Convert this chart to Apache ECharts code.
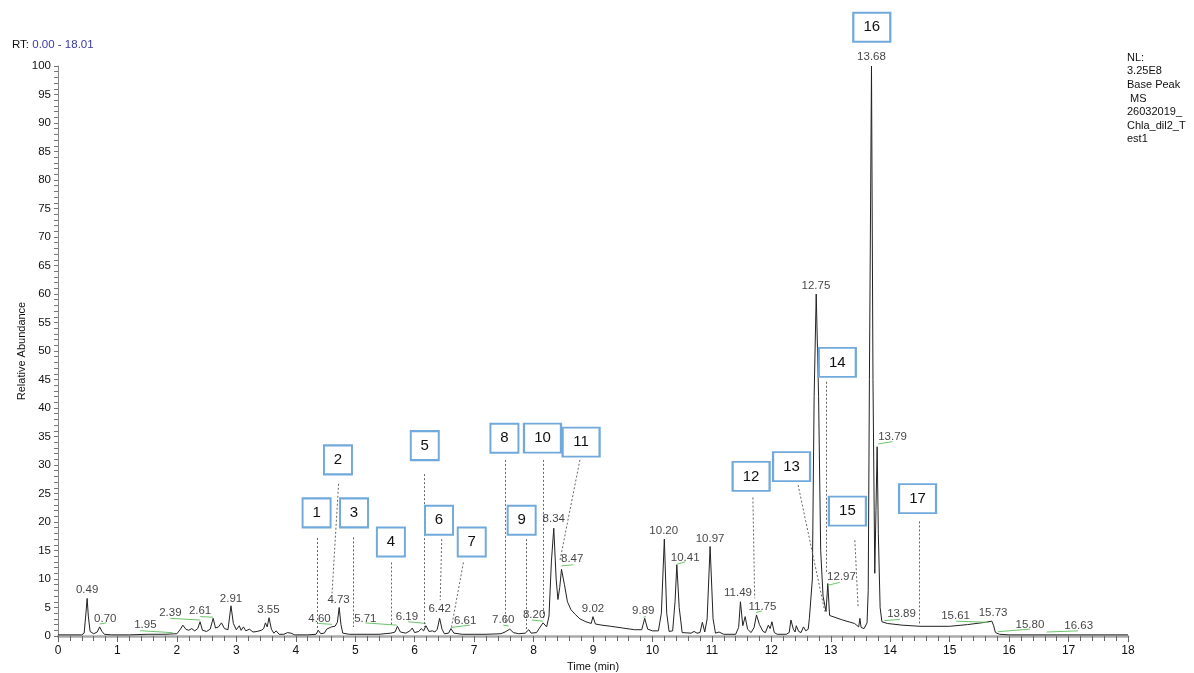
<!DOCTYPE html>
<html>
<head>
<meta charset="utf-8">
<script src="https://cdn.jsdelivr.net/npm/echarts@6/dist/echarts.min.js"></script>
<style>
html,body{margin:0;padding:0;background:#fff;}
#chart{width:1194px;height:673px;}
</style>
</head>
<body>
<div id="chart"></div>
<script>
// ---- Data ----
var rtRange = "0.00 - 18.01";
var infoLines = ["NL:", "3.25E8", "Base Peak", " MS", "26032019_", "Chla_dil2_T", "est1"];

// Trace points [time (min), relative abundance]
var trace = [
[0.00,0.2],[0.40,0.2],[0.44,0.5],[0.47,4.0],[0.49,6.6],[0.51,3.5],[0.54,0.8],[0.60,0.4],[0.66,0.7],[0.70,1.6],[0.74,0.8],[0.78,0.3],[0.90,0.2],[1.20,0.2],[1.50,0.3],[1.80,0.3],[2.00,0.4],[2.06,1.2],[2.10,1.9],[2.15,1.2],[2.20,1.0],[2.25,1.3],[2.30,0.9],[2.35,1.3],[2.39,2.5],[2.43,1.0],[2.50,0.8],[2.56,1.2],[2.61,3.1],[2.65,1.4],[2.70,1.6],[2.75,2.3],[2.80,1.3],[2.86,1.1],[2.91,5.3],[2.95,2.2],[3.00,1.1],[3.05,1.8],[3.08,1.0],[3.12,1.6],[3.16,0.9],[3.22,1.2],[3.28,0.7],[3.35,0.8],[3.42,1.0],[3.46,1.3],[3.49,2.3],[3.52,1.6],[3.55,3.2],[3.59,1.2],[3.63,0.5],[3.67,0.9],[3.72,0.3],[3.80,0.3],[3.86,0.6],[3.92,0.5],[3.98,0.2],[4.20,0.2],[4.34,0.3],[4.38,1.0],[4.42,0.4],[4.48,0.5],[4.52,1.2],[4.55,0.9],[4.60,1.6],[4.66,1.7],[4.70,2.4],[4.73,5.0],[4.76,2.0],[4.79,0.5],[4.90,0.3],[5.40,0.3],[5.60,0.5],[5.67,0.7],[5.71,1.7],[5.76,0.7],[5.85,0.5],[5.92,0.9],[5.96,1.4],[6.00,0.6],[6.07,0.8],[6.11,1.3],[6.15,0.9],[6.19,1.8],[6.24,0.8],[6.30,0.9],[6.34,0.7],[6.38,1.2],[6.42,3.1],[6.46,1.2],[6.50,0.4],[6.57,0.5],[6.61,1.3],[6.66,0.5],[6.80,0.3],[7.20,0.3],[7.45,0.4],[7.52,0.7],[7.60,1.2],[7.66,0.6],[7.75,0.4],[7.86,0.5],[7.92,1.1],[7.96,0.5],[8.05,0.6],[8.10,1.4],[8.16,2.3],[8.22,1.6],[8.26,3.5],[8.30,13.0],[8.34,18.9],[8.38,10.0],[8.41,6.4],[8.44,8.5],[8.47,11.7],[8.52,9.0],[8.57,6.0],[8.63,4.6],[8.70,3.8],[8.78,3.0],[8.88,2.5],[8.97,2.2],[9.00,3.4],[9.04,2.1],[9.15,1.9],[9.30,1.7],[9.50,1.4],[9.70,1.1],[9.82,1.1],[9.87,3.1],[9.92,1.2],[10.00,0.9],[10.10,0.9],[10.15,4.0],[10.20,17.0],[10.24,4.0],[10.28,0.8],[10.34,0.9],[10.38,6.0],[10.41,12.5],[10.45,5.0],[10.50,0.6],[10.65,0.5],[10.70,0.8],[10.75,0.5],[10.80,0.6],[10.84,2.4],[10.88,0.7],[10.92,3.0],[10.97,15.7],[11.02,3.0],[11.06,0.5],[11.12,0.7],[11.20,0.3],[11.40,0.3],[11.45,1.5],[11.48,6.0],[11.52,1.8],[11.56,3.4],[11.60,1.2],[11.66,0.6],[11.71,1.5],[11.75,3.7],[11.80,2.0],[11.86,0.8],[11.90,0.6],[11.95,1.9],[11.98,1.3],[12.01,2.5],[12.05,0.6],[12.10,0.3],[12.25,0.3],[12.30,0.6],[12.33,2.8],[12.37,1.2],[12.40,0.7],[12.42,1.8],[12.46,0.8],[12.50,0.6],[12.54,1.6],[12.58,0.9],[12.62,1.2],[12.64,3.1],[12.66,3.1],[12.69,10],[12.72,42],[12.755,60],[12.795,42],[12.83,15],[12.87,7],[12.92,4.3],[12.95,9.2],[12.98,3.6],[13.00,3.4],[13.20,2.8],[13.40,2.2],[13.47,1.6],[13.49,3.1],[13.51,1.5],[13.56,1.3],[13.61,2.3],[13.63,8],[13.65,45],[13.685,100],[13.71,45],[13.74,11],[13.76,22],[13.78,33.2],[13.80,18],[13.83,5],[13.86,2.5],[13.95,2.2],[14.20,1.9],[14.50,1.7],[15.00,1.7],[15.30,2.0],[15.60,2.4],[15.71,2.6],[15.74,1.8],[15.77,0.6],[15.80,0.9],[15.84,0.3],[16.00,0.2],[18.00,0.2]
];

// Peak labels [label anchor time, anchor abundance, text]
var peakLabels = [
[0.49,8.1,"0.49"],[0.795,3.1,"0.70"],[1.47,1.9,"1.95"],[1.89,4.1,"2.39"],[2.39,4.4,"2.61"],[2.91,6.6,"2.91"],[3.54,4.6,"3.55"],[4.40,3.1,"4.60"],[4.72,6.4,"4.73"],[5.17,3.1,"5.71"],[5.87,3.4,"6.19"],[6.42,4.7,"6.42"],[6.85,2.7,"6.61"],[7.49,2.8,"7.60"],[8.01,3.7,"8.20"],[8.34,20.5,"8.34"],[8.65,13.5,"8.47"],[9.00,4.7,"9.02"],[9.845,4.4,"9.89"],[10.19,18.5,"10.20"],[10.55,13.8,"10.41"],[10.97,17.1,"10.97"],[11.44,7.6,"11.49"],[11.85,5.1,"11.75"],[12.75,61.5,"12.75"],[13.18,10.3,"12.97"],[13.685,101.6,"13.68"],[14.04,34.9,"13.79"],[14.19,3.9,"13.89"],[15.10,3.6,"15.61"],[15.73,4.0,"15.73"],[16.35,1.9,"15.80"],[17.17,1.75,"16.63"]
];

// Green label baselines [t1, v1, t2, v2]
var labelBaselines = [
[0.70,2.1,0.81,2.3],[1.38,0.93,1.93,0.58],[1.89,3.1,2.39,2.8],[2.39,3.4,2.61,3.3],[4.38,2.2,4.61,2.05],[5.17,2.3,5.70,1.9],[5.89,2.5,6.19,2.2],[6.61,1.5,6.93,1.9],[7.49,1.9,7.58,1.75],[7.97,2.8,8.16,2.6],[8.47,12.3,8.67,12.5],[9.85,3.3,9.89,3.4],[10.41,12.6,10.55,13.0],[11.74,4.1,11.84,4.4],[12.95,8.9,13.15,9.4],[13.80,33.7,14.04,34.1],[13.90,2.7,14.16,2.9],[15.11,2.6,15.65,2.4],[15.81,0.75,16.35,1.2],[16.63,0.7,17.16,0.9]
];

// Numbered compound boxes [time, abundance, number]
var compoundBoxes = [
[4.35,21.6,"1"],[4.71,30.9,"2"],[4.98,21.6,"3"],[5.60,16.5,"4"],[6.17,33.4,"5"],[6.41,20.3,"6"],[6.96,16.5,"7"],[7.51,34.7,"8"],[7.80,20.3,"9"],[8.15,34.7,"10"],[8.80,34.0,"11"],[11.66,28.0,"12"],[12.34,29.7,"13"],[13.11,48.0,"14"],[13.28,21.9,"15"],[13.69,106.8,"16"],[14.46,24.1,"17"]
];

// Dotted leader lines from boxes to peaks [t1, v1, t2, v2]
var leaders = [
[4.36,17.2,4.36,0.9],[4.72,26.7,4.61,7.5],[4.96,17.3,4.96,1.6],[5.60,12.9,5.60,2.0],[6.16,28.4,6.16,1.6],[6.455,17.0,6.43,6.3],[6.82,12.9,6.62,1.6],[7.52,30.9,7.52,2.2],[7.885,17.0,7.885,0.75],[8.165,30.9,8.165,2.8],[8.78,30.9,8.445,13.3],[11.69,24.3,11.72,6.6],[12.45,26.5,12.90,4.3],[12.92,44.6,12.92,11.0],[13.405,16.8,13.46,4.9],[14.49,20.1,14.49,1.9]
];

var xTicks = {min:0, max:18, interval:1};
var yTicks = {min:0, max:100, interval:5};

var FONT = "'Liberation Sans', Arial, sans-serif";
var chart = echarts.init(document.getElementById('chart'), null, {renderer:'canvas'});

function segs(arr){ return arr.map(function(s){ return {coords:[[s[0],s[1]],[s[2],s[3]]]}; }); }

var option = {
  animation:false,
  backgroundColor:'#fff',
  textStyle:{fontFamily:FONT},
  grid:{left:58, right:66, top:66, bottom:37, containLabel:false, outerBoundsMode:'none'},
  xAxis:{
    type:'value', min:xTicks.min, max:xTicks.max, interval:xTicks.interval,
    name:'Time (min)', nameLocation:'middle', nameGap:25, nameMoveOverlap:false,
    nameTextStyle:{fontSize:11, color:'#111', fontFamily:FONT, verticalAlign:'top'},
    axisLine:{show:true, onZero:false, lineStyle:{color:'#aaa', width:2.5}},
    axisTick:{show:true, length:6, lineStyle:{color:'#666'}},
    minorTick:{show:true, splitNumber:5, length:5, lineStyle:{color:'#666'}},
    axisLabel:{fontSize:12, color:'#111', margin:9, fontFamily:FONT},
    splitLine:{show:false}
  },
  yAxis:{
    type:'value', min:yTicks.min, max:yTicks.max, interval:yTicks.interval,
    name:'Relative Abundance', nameLocation:'middle', nameGap:31, nameRotate:90, nameMoveOverlap:false,
    nameTextStyle:{fontSize:11, color:'#111', fontFamily:FONT},
    axisLine:{show:true, lineStyle:{color:'#888', width:1}},
    axisTick:{show:true, length:4, lineStyle:{color:'#777'}},
    minorTick:{show:true, splitNumber:5, length:4, lineStyle:{color:'#777'}},
    axisLabel:{fontSize:11.5, color:'#111', margin:7, fontFamily:FONT},
    splitLine:{show:false}
  },
  graphic:[
    {type:'text', left:12, top:39, style:{
      text:'{a|RT: }{b|'+rtRange+'}',
      rich:{a:{fontSize:11.5, fill:'#111', fontFamily:FONT}, b:{fontSize:11.5, fill:'#3a3aa8', fontFamily:FONT}}
    }},
    {type:'text', left:1127, top:51, style:{
      text:infoLines.join('\n'), fontSize:11, lineHeight:13.6, fill:'#111', fontFamily:FONT
    }}
  ],
  series:[
    {type:'line', data:trace, showSymbol:false, symbol:'none', z:3,
     lineStyle:{color:'#222', width:1}, silent:true},
    {type:'lines', coordinateSystem:'cartesian2d', data:segs(labelBaselines), z:4,
     lineStyle:{color:'#6cc46c', width:1, opacity:1}, silent:true},
    {type:'lines', coordinateSystem:'cartesian2d', data:segs(leaders), z:4,
     lineStyle:{color:'#666', width:1, type:[2,2], opacity:1}, silent:true},
    {type:'scatter', data:peakLabels, symbolSize:0, clip:false, z:5, silent:true,
     label:{show:true, position:'inside', formatter:function(p){return p.value[2];},
            fontSize:11.5, color:'#111', fontFamily:FONT}},
    {type:'scatter', data:compoundBoxes, clip:false, z:6, silent:true, symbol:'rect',
     symbolSize:function(v){ return [v[2].length>1 ? 37 : 28, 29]; },
     itemStyle:{color:'#fff', borderColor:'#72a9dc', borderWidth:2, opacity:1},
     label:{show:true, position:'inside', formatter:function(p){return p.value[2];},
            fontSize:15, color:'#111', fontFamily:FONT}}
  ]
};
chart.setOption(option);
</script>
</body>
</html>
